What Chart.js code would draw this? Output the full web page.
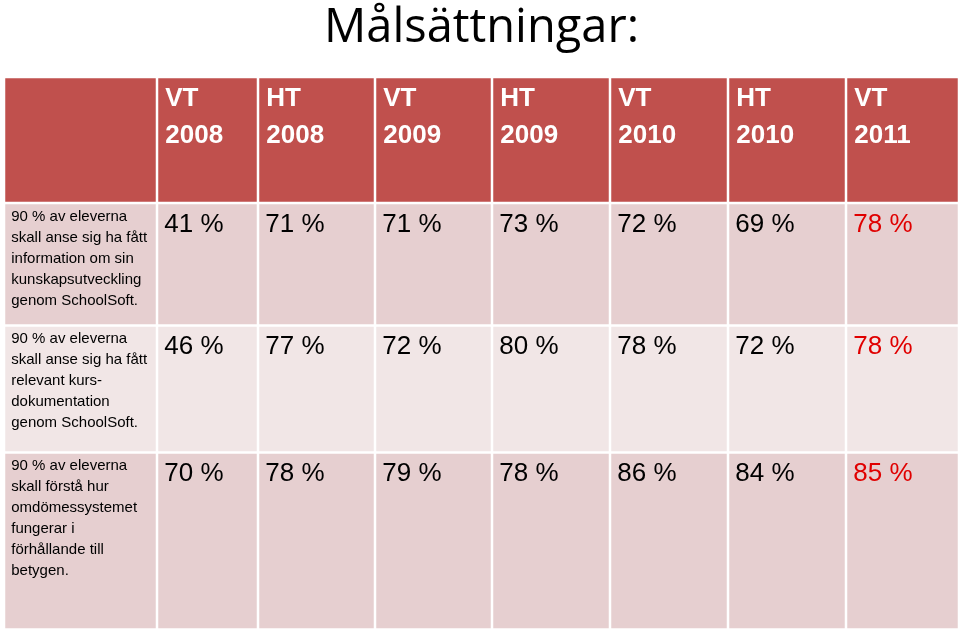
<!DOCTYPE html>
<html>
<head>
<meta charset="utf-8">
<script src="https://cdn.jsdelivr.net/npm/chart.js@4.4.1/dist/chart.umd.min.js"></script>
<style>
  html, body { margin: 0; padding: 0; background: #fff; }
  #wrap { width: 960px; height: 631px; }
</style>
</head>
<body>
<div id="wrap"><canvas id="js--chart"></canvas></div>
<script>
// data
const periods = [["VT", "2008"], ["HT", "2008"], ["VT", "2009"], ["HT", "2009"], ["VT", "2010"], ["HT", "2010"], ["VT", "2011"]];
const goals = [
  ["90 % av eleverna", "skall anse sig ha fått", "information om sin", "kunskapsutveckling", "genom SchoolSoft."],
  ["90 % av eleverna", "skall anse sig ha fått", "relevant kurs-", "dokumentation", "genom SchoolSoft."],
  ["90 % av eleverna", "skall förstå hur", "omdömessystemet", "fungerar i", "förhållande till", "betygen."]
];
const infoValues = [41, 71, 71, 73, 72, 69, 78];
const docValues = [46, 77, 72, 80, 78, 72, 78];
const gradeValues = [70, 78, 79, 78, 86, 84, 85];
const rows = [infoValues, docValues, gradeValues];

// layout (scale units)
const colWidths = [153, 101, 117, 117, 118, 118, 118, 113];
const rowHeights = [126, 122.5, 127, 177];
const gap = 2.5;

const headerColor = "#C0504D";
const bandColors = ["#E6CFD0", "#F1E6E6", "#E6CFD0"];
const latestColor = "#E00000";

function edges(sizes) {
  let out = [0];
  sizes.forEach(function (s) { out.push(out[out.length - 1] + s); });
  return out;
}
const colEdges = edges(colWidths);
const rowEdges = edges(rowHeights);

const tablePlugin = {
  id: "table",
  afterDraw: function (chart) {
    const ctx = chart.ctx;
    const xs = chart.scales.x;
    const ys = chart.scales.y;

    function cell(c, r) {
      return {
        left: xs.getPixelForValue(colEdges[c]) + gap / 2,
        right: xs.getPixelForValue(colEdges[c + 1]) - gap / 2,
        top: ys.getPixelForValue(rowEdges[r]) + gap / 2,
        bottom: ys.getPixelForValue(rowEdges[r + 1]) - gap / 2
      };
    }

    ctx.save();
    // backgrounds
    for (let r = 0; r < rowHeights.length; r++) {
      for (let c = 0; c < colWidths.length; c++) {
        const b = cell(c, r);
        ctx.fillStyle = r === 0 ? headerColor : bandColors[r - 1];
        ctx.fillRect(b.left, b.top, b.right - b.left, b.bottom - b.top);
      }
    }

    ctx.textAlign = "left";
    ctx.textBaseline = "alphabetic";

    // header
    ctx.fillStyle = "#fff";
    ctx.font = "bold 26px 'Liberation Sans', Arial, sans-serif";
    periods.forEach(function (p, i) {
      const b = cell(i + 1, 0);
      ctx.fillText(p[0], b.left + 7, b.top + 27.5);
      ctx.fillText(p[1], b.left + 7, b.top + 65);
    });

    // row labels
    ctx.fillStyle = "#000";
    ctx.font = "15px 'Liberation Sans', Arial, sans-serif";
    goals.forEach(function (lines, r) {
      const b = cell(0, r + 1);
      lines.forEach(function (line, k) {
        ctx.fillText(line, b.left + 6, b.top + 16.5 + k * 21);
      });
    });

    // values
    ctx.font = "26px 'Liberation Sans', Arial, sans-serif";
    rows.forEach(function (vals, r) {
      vals.forEach(function (v, i) {
        const b = cell(i + 1, r + 1);
        ctx.fillStyle = i === vals.length - 1 ? latestColor : "#000";
        ctx.fillText(v + " %", b.left + 6, b.top + 27.5);
      });
    });
    ctx.restore();
  }
};

new Chart(document.getElementById("js--chart"), {
  type: "scatter",
  data: { datasets: [] },
  options: {
    responsive: true,
    maintainAspectRatio: false,
    animation: false,
    events: [],
    layout: { padding: { left: 4, right: 1, top: 0, bottom: 1.5 } },
    scales: {
      x: { type: "linear", min: 0, max: colEdges[colEdges.length - 1], display: false },
      y: { type: "linear", min: 0, max: rowEdges[rowEdges.length - 1], reverse: true, display: false }
    },
    plugins: {
      legend: { display: false },
      tooltip: { enabled: false },
      title: {
        display: true,
        text: "Målsättningar:",
        color: "#000",
        font: { family: "'Open Sans', 'Noto Sans', sans-serif", size: 47, weight: "normal", lineHeight: 1 },
        padding: { top: 5, bottom: 25 }
      }
    }
  },
  plugins: [tablePlugin]
});
</script>
</body>
</html>
